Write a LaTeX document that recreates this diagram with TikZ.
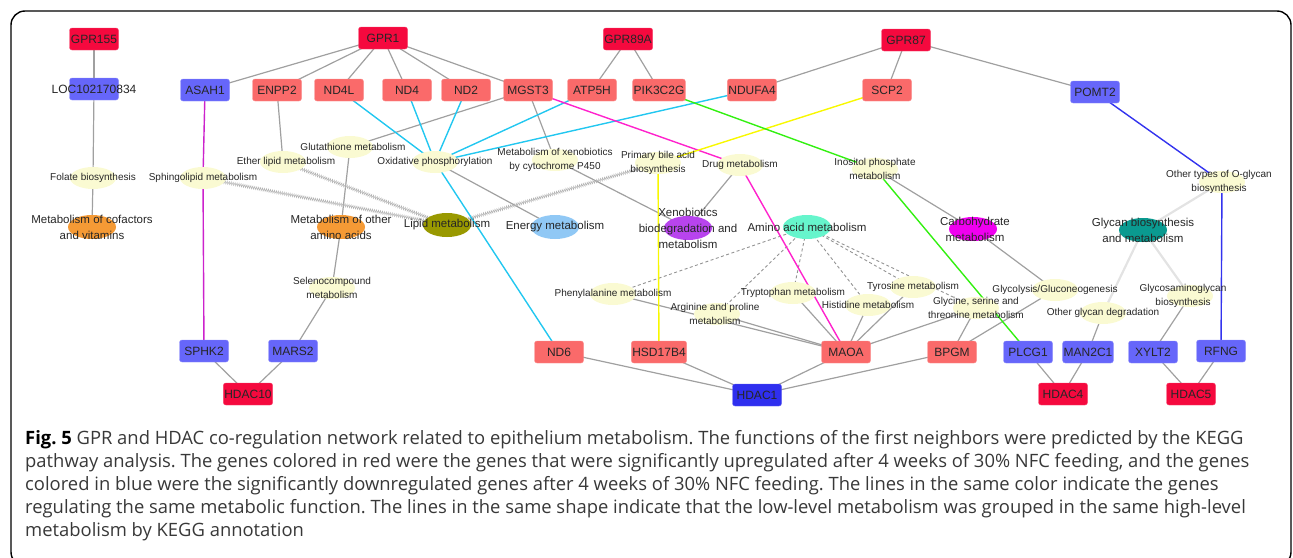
\documentclass[tikz,border=0pt]{standalone}
\usepackage{fontspec}
\setmainfont{Liberation Sans}
\newfontfamily\capfont{Open Sans}
\usetikzlibrary{backgrounds, shapes.geometric, decorations.pathmorphing}

\definecolor{upred}{HTML}{F5093E}
\definecolor{upsalmon}{HTML}{FA6A6A}
\definecolor{downblue}{HTML}{6666FA}
\definecolor{deepblue}{HTML}{2F2FEF}
\definecolor{fnpale}{HTML}{FAFAD2}
\definecolor{hiorange}{HTML}{F59A35}
\definecolor{hiolive}{HTML}{999900}
\definecolor{hisky}{HTML}{90C8F5}
\definecolor{hipurple}{HTML}{B844EE}
\definecolor{hiaqua}{HTML}{66F5CC}
\definecolor{himagenta}{HTML}{F000F0}
\definecolor{hiteal}{HTML}{0A9A90}
\definecolor{edgegray}{HTML}{A0A0A0}
\definecolor{lncyan}{HTML}{22C7F0}
\definecolor{lnpink}{HTML}{FF22CC}
\definecolor{lnviolet}{HTML}{CC22CC}
\definecolor{lnyellow}{HTML}{F8F800}
\definecolor{lngreen}{HTML}{33F011}
\definecolor{lnblue}{HTML}{3333EE}

\tikzset{
  gene/.style={rectangle, rounded corners=2.5pt, minimum width=49pt, minimum height=22pt,
    inner sep=1pt, font=\fontsize{12}{12}\selectfont, text=black!85},
  hotgene/.style={gene, fill=upred, draw=upred!75!white},
  upgene/.style={gene, fill=upsalmon, draw=upsalmon!75!white},
  downgene/.style={gene, fill=downblue, draw=downblue!75!white},
  genelab/.style={font=\fontsize{12}{12}\selectfont, text=black!85},
  fn/.style={ellipse, minimum width=46pt, minimum height=22pt, inner sep=0pt, fill=fnpale},
  fnlab/.style={font=\fontsize{10}{14}\selectfont, align=center, text=black!85},
  hi/.style={ellipse, minimum width=48pt, minimum height=24pt, inner sep=0pt},
  hilab/.style={font=\fontsize{11.5}{16}\selectfont, align=center, text=black!85},
  edge/.style={draw=edgegray, line width=1.2pt},
  grouped/.style={draw=gray!22, line width=2.2pt},
  hatched/.style={draw=gray!60, line width=0.5pt, decorate,
    decoration={zigzag, amplitude=1.5pt, segment length=2pt}},
  subfn/.style={draw=gray!85, line width=0.9pt, dash pattern=on 3pt off 2.5pt},
  fnline/.style={line width=1.4pt}
}

\begin{document}
\frenchspacing
\begin{tikzpicture}[x=1pt, y=-1pt]
  \useasboundingbox (0,0) rectangle (1293,557);
  \draw[line width=1.4pt, rounded corners=14pt] (11,11) rectangle (1291,566);

  % genes, upper row
  \node[hotgene] (gpr155) at (94,39) {GPR155};
  \node[hotgene] (gpr1) at (383,38) {GPR1};
  \node[hotgene] (gpr89a) at (628,39) {GPR89A};
  \node[hotgene] (gpr87) at (906,40) {GPR87};
  \node[downgene, label={[genelab]center:LOC102170834}] (loc) at (94,89) {};
  \node[downgene] (asah1) at (205,90) {ASAH1};
  \node[upgene] (enpp2) at (277,90) {ENPP2};
  \node[upgene] (nd4l) at (339,90) {ND4L};
  \node[upgene] (nd4) at (407,90) {ND4};
  \node[upgene] (nd2) at (466,90) {ND2};
  \node[upgene] (mgst3) at (528,90) {MGST3};
  \node[upgene] (atp5h) at (592,90) {ATP5H};
  \node[upgene] (pik3c2g) at (659,90) {PIK3C2G};
  \node[upgene] (ndufa4) at (752,90) {NDUFA4};
  \node[upgene] (scp2) at (887,90) {SCP2};
  \node[downgene] (pomt2) at (1095,92) {POMT2};

  % genes, lower row
  \node[downgene] (sphk2) at (204,351) {SPHK2};
  \node[downgene] (mars2) at (293,351) {MARS2};
  \node[hotgene] (hdac10) at (248,394) {HDAC10};
  \node[upgene] (nd6) at (559,352) {ND6};
  \node[upgene] (hsd17b4) at (659,352) {HSD17B4};
  \node[upgene] (maoa) at (846,352) {MAOA};
  \node[upgene] (bpgm) at (952,352) {BPGM};
  \node[gene, fill=deepblue, draw=deepblue!75!white] (hdac1) at (757,395) {HDAC1};
  \node[downgene] (plcg1) at (1028,352) {PLCG1};
  \node[downgene] (man2c1) at (1088,352) {MAN2C1};
  \node[downgene] (xylt2) at (1153,352) {XYLT2};
  \node[downgene] (rfng) at (1221,351) {RFNG};
  \node[hotgene] (hdac4) at (1063,394) {HDAC4};
  \node[hotgene] (hdac5) at (1191,394) {HDAC5};

  % low-level functions
  \node[fn, label={[fnlab]center:Folate biosynthesis}] (folate) at (93,178) {};
  \node[fn, label={[fnlab]center:Sphingolipid metabolism}] (sphingo) at (203,178) {};
  \node[fn, label={[fnlab, xshift=3pt]center:Ether lipid metabolism}] (ether) at (283,162) {};
  \node[fn, label={[fnlab, xshift=3pt]center:Glutathione metabolism}] (gluta) at (350,147) {};
  \node[fn, label={[fnlab]center:Oxidative phosphorylation}] (oxphos) at (435,162) {};
  \node[fn, label={[fnlab]center:Metabolism of xenobiotics\\by cytochrome P450}] (xenop450) at (555,160) {};
  \node[fn, label={[fnlab]center:Primary bile acid\\biosynthesis}] (bile) at (658,163) {};
  \node[fn, label={[fnlab]center:Drug metabolism}] (drug) at (740,165) {};
  \node[fn, label={[fnlab]center:Inositol phosphate\\metabolism}] (inositol) at (875,169) {};
  \node[fn, label={[fnlab]center:Selenocompound\\metabolism}] (seleno) at (332,288) {};
  \node[fn, label={[fnlab]center:Phenylalanine metabolism}] (phe) at (613,294) {};
  \node[fn, label={[fnlab, xshift=-2pt]center:Arginine and proline\\metabolism}] (arg) at (717,314) {};
  \node[fn, label={[fnlab]center:Tryptophan metabolism}] (trp) at (793,293) {};
  \node[fn, label={[fnlab]center:Histidine metabolism}] (his) at (868,305) {};
  \node[fn, label={[fnlab]center:Tyrosine metabolism}] (tyr) at (913,287) {};
  \node[fn, label={[fnlab]center:{Glycine, serine and\\threonine metabolism}}] (gly) at (976,308) {};
  \node[fn, label={[fnlab]center:Glycolysis/Gluconeogenesis}] (glycolysis) at (1055,290) {};
  \node[fn, label={[fnlab]center:Other glycan degradation}] (glycandeg) at (1103,313) {};
  \node[fn, label={[fnlab, xshift=-7pt]center:Glycosaminoglycan\\biosynthesis}] (gag) at (1190,296) {};
  \node[fn, label={[fnlab, xshift=-3pt]center:Other types of O-glycan\\biosynthesis}] (oglycan) at (1222,182) {};

  % high-level functions
  \node[hi, fill=hiorange, label={[hilab]center:Metabolism of cofactors\\and vitamins}] (cofac) at (92,227) {};
  \node[hi, fill=hiorange, label={[hilab]center:Metabolism of other\\amino acids}] (otheraa) at (341,227) {};
  \node[hi, fill=hiolive, label={[hilab]center:Lipid metabolism}] (lipid) at (447,225) {};
  \node[hi, fill=hisky, label={[hilab]center:Energy metabolism}] (energy) at (555,227) {};
  \node[hi, fill=hipurple, label={[hilab]center:Xenobiotics\\biodegradation and\\metabolism}] (xenobio) at (688,228) {};
  \node[hi, fill=hiaqua, label={[hilab]center:Amino acid metabolism}] (aminoacid) at (807,227) {};
  \node[hi, fill=himagenta, label={[hilab, xshift=2pt]center:Carbohydrate\\metabolism}] (carbo) at (973,229) {};
  \node[hi, fill=hiteal, label={[hilab]center:Glycan biosynthesis\\and metabolism}] (glycan) at (1143,230) {};

  \begin{scope}[on background layer]
    \foreach \a/\b in {gpr155/loc, loc/folate, folate/cofac,
        gpr1/asah1, gpr1/enpp2, gpr1/nd4l, gpr1/nd4, gpr1/nd2, gpr1/mgst3,
        gpr89a/atp5h, gpr89a/pik3c2g, gpr87/ndufa4, gpr87/scp2, gpr87/pomt2,
        enpp2/ether, mgst3/gluta, mgst3/xenop450, gluta/otheraa, otheraa/seleno,
        seleno/mars2, oxphos/energy, xenop450/xenobio, drug/xenobio,
        inositol/carbo, carbo/glycolysis, glycolysis/bpgm, gly/bpgm, gly/maoa,
        glycandeg/man2c1, gag/xylt2, phe/maoa, arg/maoa, trp/maoa, his/maoa, tyr/maoa,
        hdac10/sphk2, hdac10/mars2, hdac1/nd6, hdac1/hsd17b4, hdac1/maoa, hdac1/bpgm,
        hdac4/plcg1, hdac4/man2c1, hdac5/xylt2, hdac5/rfng}
      \draw[edge] (\a.center) -- (\b.center);
    \foreach \a in {glycandeg, gag, oglycan}
      \draw[grouped] (\a.center) -- (glycan.center);
    \foreach \a in {ether, sphingo, bile}
      \draw[hatched] (\a.center) -- (lipid.center);
    \foreach \a in {phe, arg, trp, his, tyr, gly}
      \draw[subfn] (aminoacid.center) -- (\a.center);
    \foreach \a in {nd4l, nd4, nd2, atp5h, ndufa4, nd6}
      \draw[fnline, lncyan] (\a.center) -- (oxphos.center);
    \draw[fnline, lnviolet] (asah1.center) -- (sphingo.center) -- (sphk2.center);
    \draw[fnline, lnpink] (mgst3.center) -- (drug.center) -- (maoa.center);
    \draw[fnline, lnyellow] (scp2.center) -- (bile.center) -- (hsd17b4.center);
    \draw[fnline, lngreen] (pik3c2g.center) -- (inositol.center) -- (plcg1.center);
    \draw[fnline, lnblue] (pomt2.center) -- (oglycan.center) -- (rfng.center);
  \end{scope}

  \node[anchor=north west, inner sep=0pt, align=left, text=black!78,
    font=\capfont\fontsize{18.4}{23}\selectfont] (caption) at (25,430)
    {\textbf{\color{black}Fig. 5} GPR and HDAC co-regulation network related to epithelium metabolism. The functions of the first neighbors were predicted by the KEGG\\
     pathway analysis. The genes colored in red were the genes that were significantly upregulated after 4 weeks of 30\% NFC feeding, and the genes\\
     colored in blue were the significantly downregulated genes after 4 weeks of 30\% NFC feeding. The lines in the same color indicate the genes\\
     regulating the same metabolic function. The lines in the same shape indicate that the low-level metabolism was grouped in the same high-level\\
     metabolism by KEGG annotation};
\end{tikzpicture}
\end{document}
